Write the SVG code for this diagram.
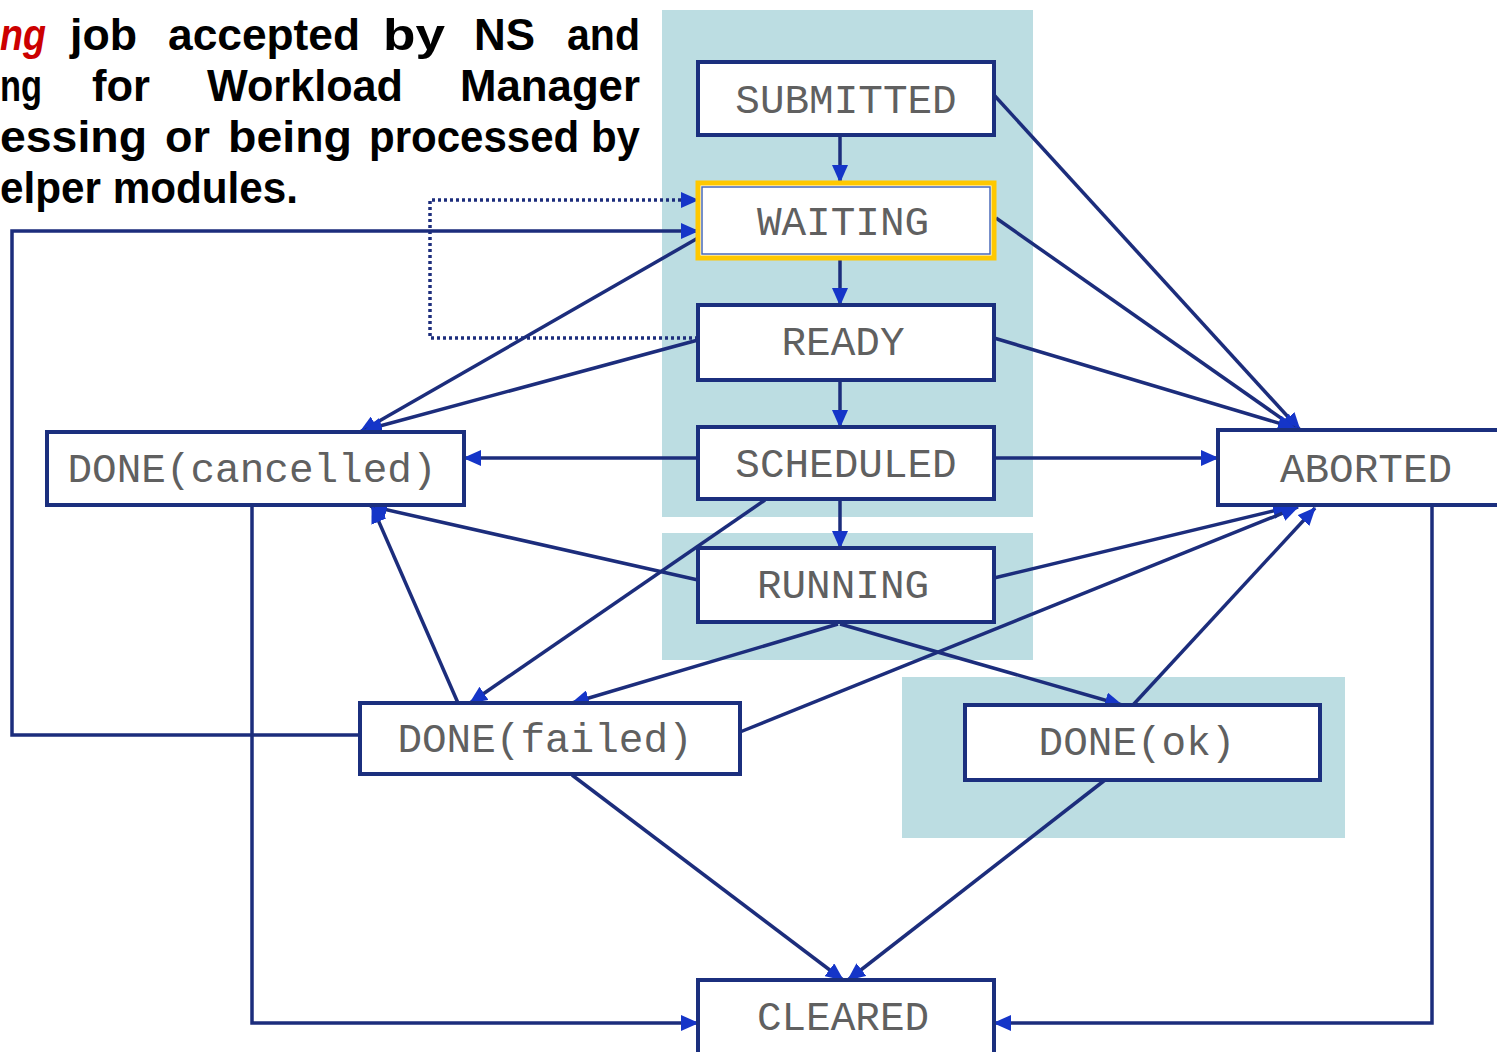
<svg xmlns="http://www.w3.org/2000/svg" width="1497" height="1052" viewBox="0 0 1497 1052">
<style>
.panel{fill:#bcdde2}
.node{fill:#ffffff;stroke:#1b2f7e;stroke-width:4}
.lbl{font-family:"Liberation Mono","DejaVu Sans Mono",monospace;font-size:41px;fill:#606060;text-anchor:middle}
.edge{fill:none;stroke:#1c2d7c;stroke-width:3.5;marker-end:url(#ah)}
.dot{stroke-dasharray:3 3}
.hd{font-family:"Liberation Sans",Arial,sans-serif;font-size:44px;font-weight:bold;fill:#000}
.red{fill:#cc0000;font-style:italic}
</style>
<defs>
<marker id="ah" markerUnits="userSpaceOnUse" markerWidth="18" markerHeight="16" refX="17" refY="8" orient="auto">
<path d="M0,0 L18,8 L0,16 z" fill="#1535c8"/>
</marker>
</defs>
<rect width="1497" height="1052" fill="#ffffff"/>
<g id="panels">
<rect class="panel" x="662" y="10" width="371" height="507"/>
<rect class="panel" x="662" y="533" width="371" height="127"/>
<rect class="panel" x="902" y="677" width="443" height="161"/>
</g>
<g id="caption">
<text class="hd red" y="50" x="0" textLength="46" lengthAdjust="spacingAndGlyphs">ng</text>
<text class="hd" y="50" x="70" textLength="67" lengthAdjust="spacingAndGlyphs">job</text>
<text class="hd" y="50" x="168" textLength="192" lengthAdjust="spacingAndGlyphs">accepted</text>
<text class="hd" y="50" x="383" textLength="62" lengthAdjust="spacingAndGlyphs">by</text>
<text class="hd" y="50" x="474" textLength="61" lengthAdjust="spacingAndGlyphs">NS</text>
<text class="hd" y="50" x="567" textLength="73" lengthAdjust="spacingAndGlyphs">and</text>
<text class="hd" y="101" x="0" textLength="42" lengthAdjust="spacingAndGlyphs">ng</text>
<text class="hd" y="101" x="92" textLength="58" lengthAdjust="spacingAndGlyphs">for</text>
<text class="hd" y="101" x="207" textLength="196" lengthAdjust="spacingAndGlyphs">Workload</text>
<text class="hd" y="101" x="460" textLength="180" lengthAdjust="spacingAndGlyphs">Manager</text>
<text class="hd" y="152" x="0" textLength="147" lengthAdjust="spacingAndGlyphs">essing</text>
<text class="hd" y="152" x="165" textLength="45" lengthAdjust="spacingAndGlyphs">or</text>
<text class="hd" y="152" x="228" textLength="124" lengthAdjust="spacingAndGlyphs">being</text>
<text class="hd" y="152" x="369" textLength="271" lengthAdjust="spacingAndGlyphs">processed by</text>
<text class="hd" y="203" x="0" textLength="298" lengthAdjust="spacingAndGlyphs">elper modules.</text>
</g>
<g id="connectors">
<path class="edge" d="M840,135 L840,182"/>
<path class="edge" d="M840,258 L840,305"/>
<path class="edge" d="M840,380 L840,427"/>
<path class="edge" d="M840,499 L840,548"/>
<path class="edge" d="M994,95 L1300,430"/>
<path class="edge" d="M996,218 L1298,430"/>
<path class="edge" d="M994,338 L1295,428"/>
<path class="edge" d="M994,458 L1218,458"/>
<path class="edge" d="M994,578 L1290,507"/>
<path class="edge" d="M740,732 L1298,507"/>
<path class="edge" d="M1133,705 L1315,508"/>
<path class="edge" d="M698,238 L360,432"/>
<path class="edge" d="M698,340 L365,430"/>
<path class="edge dot" d="M698,338 L430,338 L430,200 L698,200"/>
<path class="edge" d="M698,458 L464,458"/>
<path class="edge" d="M698,580 L370,506"/>
<path class="edge" d="M458,703 L372,506"/>
<path class="edge" d="M765,500 L470,703"/>
<path class="edge" d="M838,624 L572,703"/>
<path class="edge" d="M840,624 L1122,705"/>
<path class="edge" d="M572,775 L843,980"/>
<path class="edge" d="M1105,780 L848,980"/>
<path class="edge" d="M252,505 L252,1023 L698,1023"/>
<path class="edge" d="M1432,505 L1432,1023 L994,1023"/>
<path class="edge" d="M360,735 L12,735 L12,231 L698,231"/>
</g>
<g id="n-submitted"><rect class="node" x="698" y="62" width="296" height="73"/><text class="lbl" x="846" y="113">SUBMITTED</text></g>
<g id="n-waiting"><rect x="698" y="183" width="296" height="75" fill="#fff" stroke="#ffc800" stroke-width="5"/><rect x="702" y="187" width="288" height="67" fill="none" stroke="#4a6ab8" stroke-width="1.5"/><text class="lbl" x="843" y="235">WAITING</text></g>
<g id="n-ready"><rect class="node" x="698" y="305" width="296" height="75"/><text class="lbl" x="843" y="355">READY</text></g>
<g id="n-scheduled"><rect class="node" x="698" y="427" width="296" height="72"/><text class="lbl" x="846" y="477">SCHEDULED</text></g>
<g id="n-running"><rect class="node" x="698" y="548" width="296" height="74"/><text class="lbl" x="843" y="598">RUNNING</text></g>
<g id="n-cancelled"><rect class="node" x="47" y="432" width="417" height="73"/><text class="lbl" x="252" y="482">DONE(cancelled)</text></g>
<g id="n-aborted"><rect class="node" x="1218" y="430" width="300" height="75"/><text class="lbl" x="1366" y="482">ABORTED</text></g>
<g id="n-failed"><rect class="node" x="360" y="703" width="380" height="71"/><text class="lbl" x="545" y="752">DONE(failed)</text></g>
<g id="n-ok"><rect class="node" x="965" y="705" width="355" height="75"/><text class="lbl" x="1137" y="755">DONE(ok)</text></g>
<g id="n-cleared"><rect class="node" x="698" y="980" width="296" height="90"/><text class="lbl" x="843" y="1030">CLEARED</text></g>
</svg>
